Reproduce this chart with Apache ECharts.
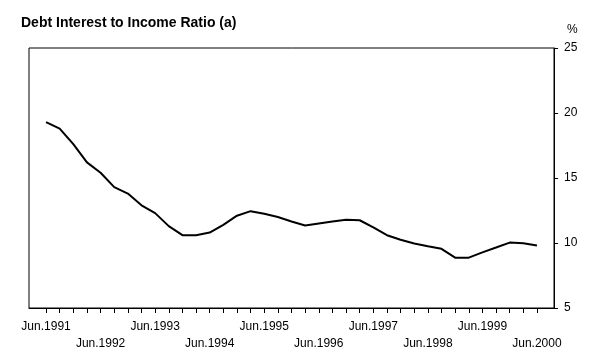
<!DOCTYPE html>
<html>
<head>
<meta charset="utf-8">
<script src="https://cdn.jsdelivr.net/npm/echarts@6/dist/echarts.min.js"></script>
<style>html,body{margin:0;padding:0;background:#fff;}#c{width:605px;height:361px;}</style>
</head>
<body>
<div id="c"></div>
<script>
// Quarterly observations, Jun.1991 .. Jun.2000 (37 quarters)
var ratioValues = [19.3, 18.8, 17.6, 16.2, 15.4, 14.3, 13.8, 12.9, 12.3, 11.3,
  10.6, 10.6, 10.8, 11.4, 12.1, 12.45, 12.25, 12.0, 11.65, 11.35,
  11.5, 11.65, 11.78, 11.75, 11.2, 10.6, 10.25, 9.96, 9.75, 9.55,
  8.87, 8.87, 9.28, 9.65, 10.03, 9.98, 9.8];
var yearLabels = ["Jun.1991","Jun.1992","Jun.1993","Jun.1994","Jun.1995","Jun.1996","Jun.1997","Jun.1998","Jun.1999","Jun.2000"];
var yTicks = [5, 10, 15, 20, 25];

var quarterIdx = ratioValues.map(function(v, i){ return i; });
var labelIdx = yearLabels.map(function(l, k){ return k * 4; });
var seriesData = ratioValues.map(function(v, i){ return [i, v]; });

var FONT = 'Liberation Sans';
var chart = echarts.init(document.getElementById('c'), null, {renderer: 'canvas'});
chart.setOption({
  animation: false,
  backgroundColor: '#fff',
  title: {
    text: 'Debt Interest to Income Ratio (a)',
    left: 21, top: 16, padding: 0,
    textStyle: {fontFamily: FONT, fontSize: 14, fontWeight: 'bold', color: '#000'}
  },
  grid: {
    left: 29, right: 51, top: 48, bottom: 53,
    show: true, borderColor: '#000', borderWidth: 1, backgroundColor: 'transparent'
  },
  xAxis: {
    type: 'value', min: -1.25, max: 37.25,
    axisLine: {show: true, onZero: false, lineStyle: {color: '#000', width: 1}},
    splitLine: {show: false},
    axisTick: {show: true, length: 5, lineStyle: {color: '#000'}, customValues: quarterIdx},
    axisLabel: {
      customValues: labelIdx,
      margin: 10,
      fontFamily: FONT, fontSize: 12, color: '#000', lineHeight: 17,
      formatter: function(v){
        var k = Math.round(v / 4);
        var t = yearLabels[k] || '';
        return (k % 2 === 1) ? '\n' + t : t;
      }
    }
  },
  yAxis: {
    type: 'value', position: 'right', min: 5, max: 25, interval: 5,
    name: '%', nameLocation: 'end', nameGap: 12,
    nameTextStyle: {fontFamily: FONT, fontSize: 12, color: '#000', align: 'left', padding: [0, 0, 0, 13]},
    axisLine: {show: true, onZero: false, lineStyle: {color: '#000', width: 1}},
    axisTick: {show: true, length: 4, lineStyle: {color: '#000'}, customValues: yTicks},
    splitLine: {show: false},
    axisLabel: {margin: 10, fontFamily: FONT, fontSize: 12, color: '#000',
      customValues: yTicks}
  },
  series: [{
    type: 'line',
    data: seriesData,
    symbol: 'none',
    lineStyle: {color: '#000', width: 2},
    silent: true
  }]
});
</script>
</body>
</html>
